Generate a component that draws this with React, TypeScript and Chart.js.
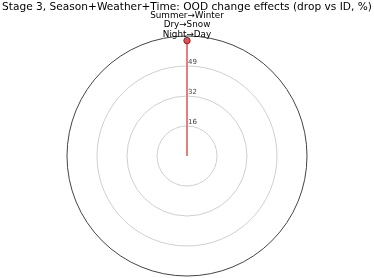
import React, { useEffect, useRef } from "react";
import { Chart, registerables } from "chart.js";

Chart.register(...registerables);

// Data
const seasonShift = ["Summer→Winter"];
const weatherShift = ["Dry→Snow"];
const timeShift = ["Night→Day"];
const dropValues = [62.5];
const axisMax = 65;
const tickStep = 16.25;
const tickLabels = ["16", "32", "49"];
const titleText = "Stage 3, Season+Weather+Time: OOD change effects (drop vs ID, %)";

const FONT = "'DejaVu Sans', sans-serif";

const overlayPlugin = {
  id: "overlay",
  beforeDatasetsDraw(chart: any) {
    const scale = chart.scales.r;
    const ctx = chart.ctx;
    ctx.save();
    dropValues.forEach((v, i) => {
      const p0 = scale.getPointPositionForValue(i, 0);
      const p1 = scale.getPointPositionForValue(i, v);
      ctx.strokeStyle = "#e57f7f";
      ctx.lineWidth = 2;
      ctx.beginPath();
      ctx.moveTo(p0.x, p0.y);
      ctx.lineTo(p1.x, p1.y);
      ctx.stroke();
    });
    ctx.restore();
  },
  afterDraw(chart: any) {
    const scale = chart.scales.r;
    const ctx = chart.ctx;
    ctx.save();
    // tick labels
    ctx.font = `7px ${FONT}`;
    ctx.fillStyle = "#444";
    ctx.textAlign = "left";
    ctx.textBaseline = "bottom";
    tickLabels.forEach((lab, i) => {
      const v = tickStep * (i + 1);
      const p = scale.getPointPositionForValue(0, v);
      ctx.fillText(lab, p.x + 1, p.y - 0.5);
    });
    // point labels
    ctx.font = `8.8px ${FONT}`;
    ctx.fillStyle = "#000";
    ctx.textAlign = "center";
    ctx.textBaseline = "middle";
    seasonShift.forEach((s, i) => {
      const lines = [s, weatherShift[i], timeShift[i]];
      const p = scale.getPointPositionForValue(i, axisMax);
      const lh = 9.4;
      lines.forEach((ln, j) => {
        ctx.fillText(ln, p.x, p.y - 1.5 - (lines.length - 1 - j) * lh);
      });
    });
    ctx.restore();
  },
};

export default function App() {
  const ref = useRef<HTMLCanvasElement>(null);
  useEffect(() => {
    if (!ref.current) return;
    const labels = seasonShift.map((s, i) => [s, weatherShift[i], timeShift[i]].join(" / "));
    const chart = new Chart(ref.current, {
      type: "radar",
      data: {
        labels,
        datasets: [
          {
            data: dropValues,
            borderColor: "rgba(0,0,0,0)",
            backgroundColor: "rgba(0,0,0,0)",
            pointBackgroundColor: "#e05252",
            pointBorderColor: "#8a2020",
            pointBorderWidth: 1,
            pointRadius: 3.2,
            fill: false,
          },
        ],
      },
      options: {
        responsive: false,
        animation: false,
        layout: { padding: { top: 0, bottom: 1, left: 0, right: 0 } },
        plugins: {
          legend: { display: false },
          tooltip: { enabled: false },
          title: {
            display: true,
            text: titleText,
            color: "#000",
            font: { family: FONT, size: 10.6, weight: "normal", lineHeight: 1.2 },
            padding: { top: 1, bottom: 21.3 },
          },
        },
        scales: {
          r: {
            min: 0,
            max: axisMax,
            ticks: { display: false, stepSize: tickStep },
            pointLabels: { display: false },
            angleLines: { display: false },
            grid: {
              circular: true,
              lineWidth: 1,
              color: (c: any) => (c.tick && c.tick.value >= axisMax ? "#444" : "#cfcfcf"),
            },
          },
        },
      },
      plugins: [overlayPlugin],
    } as any);
    return () => chart.destroy();
  }, []);
  return (
    <div style={{ position: "fixed", left: 0, top: 0, width: 374, height: 278, background: "#fff" }}>
      <canvas ref={ref} width={374} height={278} style={{ display: "block" }} />
    </div>
  );
}
